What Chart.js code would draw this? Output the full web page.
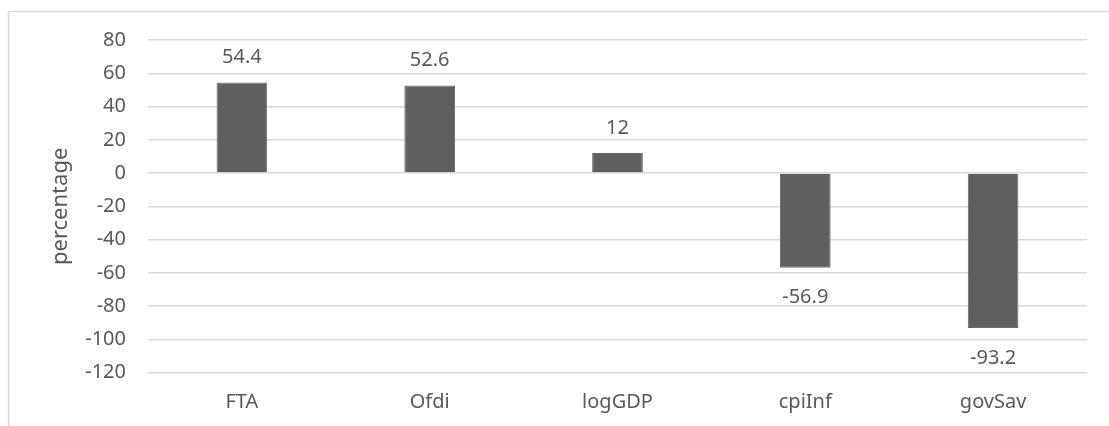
<!DOCTYPE html>
<html>
<head>
<meta charset="utf-8">
<script src="https://cdn.jsdelivr.net/npm/chart.js@4.4.1/dist/chart.umd.min.js"></script>
<style>
    html, body { margin: 0; padding: 0; background: #fff; }
    #wrap { width: 1109px; height: 426px; }
</style>
</head>
<body>
<div id="wrap"><canvas id="chart"></canvas></div>
<script>
// Değişkenler ve değerler
const categories = ['FTA', 'Ofdi', 'logGDP', 'cpiInf', 'govSav'];
const values = [54.4, 52.6, 12, -56.9, -93.2];
const yTicks = [80, 60, 40, 20, 0, -20, -40, -60, -80, -100, -120];

const textColor = '#595959';
const gridColor = '#d9d9d9';
const fontFamily = '"Noto Sans", "Open Sans", sans-serif';
const fontSize = 20;

// Arka plan ve çerçeve
const framePlugin = {
    id: 'frame',
    beforeDraw(chart) {
        const ctx = chart.ctx;
        ctx.save();
        ctx.fillStyle = '#fff';
        ctx.fillRect(0, 0, chart.width, chart.height);
        ctx.strokeStyle = gridColor;
        ctx.lineWidth = 1.5;
        ctx.strokeRect(8.5, 11.5, chart.width + 20, chart.height + 20);
        ctx.restore();
    }
};

// Çubuk değer etiketleri
const valueLabels = {
    id: 'valueLabels',
    afterDatasetsDraw(chart) {
        const ctx = chart.ctx;
        const meta = chart.getDatasetMeta(0);
        ctx.save();
        ctx.fillStyle = textColor;
        ctx.font = fontSize + 'px ' + fontFamily;
        ctx.textAlign = 'center';
        ctx.textBaseline = 'middle';
        meta.data.forEach((bar, i) => {
            const v = values[i];
            const y = v >= 0 ? bar.y - 25 : bar.y + 30;
            ctx.fillText(String(v), bar.x, y);
        });
        ctx.restore();
    }
};

new Chart(document.getElementById('chart'), {
    type: 'bar',
    data: {
        labels: categories,
        datasets: [{
            data: values,
            backgroundColor: '#5f5f5f',
            borderColor: '#6a6a6a',
            borderWidth: 1,
            categoryPercentage: 1,
            barPercentage: 0.27
        }]
    },
    options: {
        responsive: true,
        maintainAspectRatio: false,
        animation: false,
        layout: { padding: { left: 8, right: 22, top: 40, bottom: 0 } },
        plugins: {
            legend: { display: false },
            tooltip: { enabled: false }
        },
        scales: {
            x: {
                grid: { display: false, drawTicks: false },
                border: { display: false },
                ticks: {
                    color: textColor,
                    padding: 18,
                    font: { family: fontFamily, size: fontSize }
                },
                afterFit(s) { s.height = 426 - 372.7; }
            },
            y: {
                min: -120,
                max: 80,
                afterBuildTicks(s) { s.ticks = yTicks.map(v => ({ value: v })); },
                grid: { color: gridColor, lineWidth: 1.5, drawTicks: false },
                border: { display: false },
                ticks: {
                    color: textColor,
                    padding: 22,
                    font: { family: fontFamily, size: fontSize }
                },
                title: {
                    display: true,
                    text: 'percentage',
                    color: textColor,
                    font: { family: fontFamily, size: 22, lineHeight: 1.2 },
                    padding: { top: 40, bottom: 0 }
                },
                afterFit(s) { s.width = 140; }
            }
        }
    },
    plugins: [framePlugin, valueLabels]
});
</script>
</body>
</html>
